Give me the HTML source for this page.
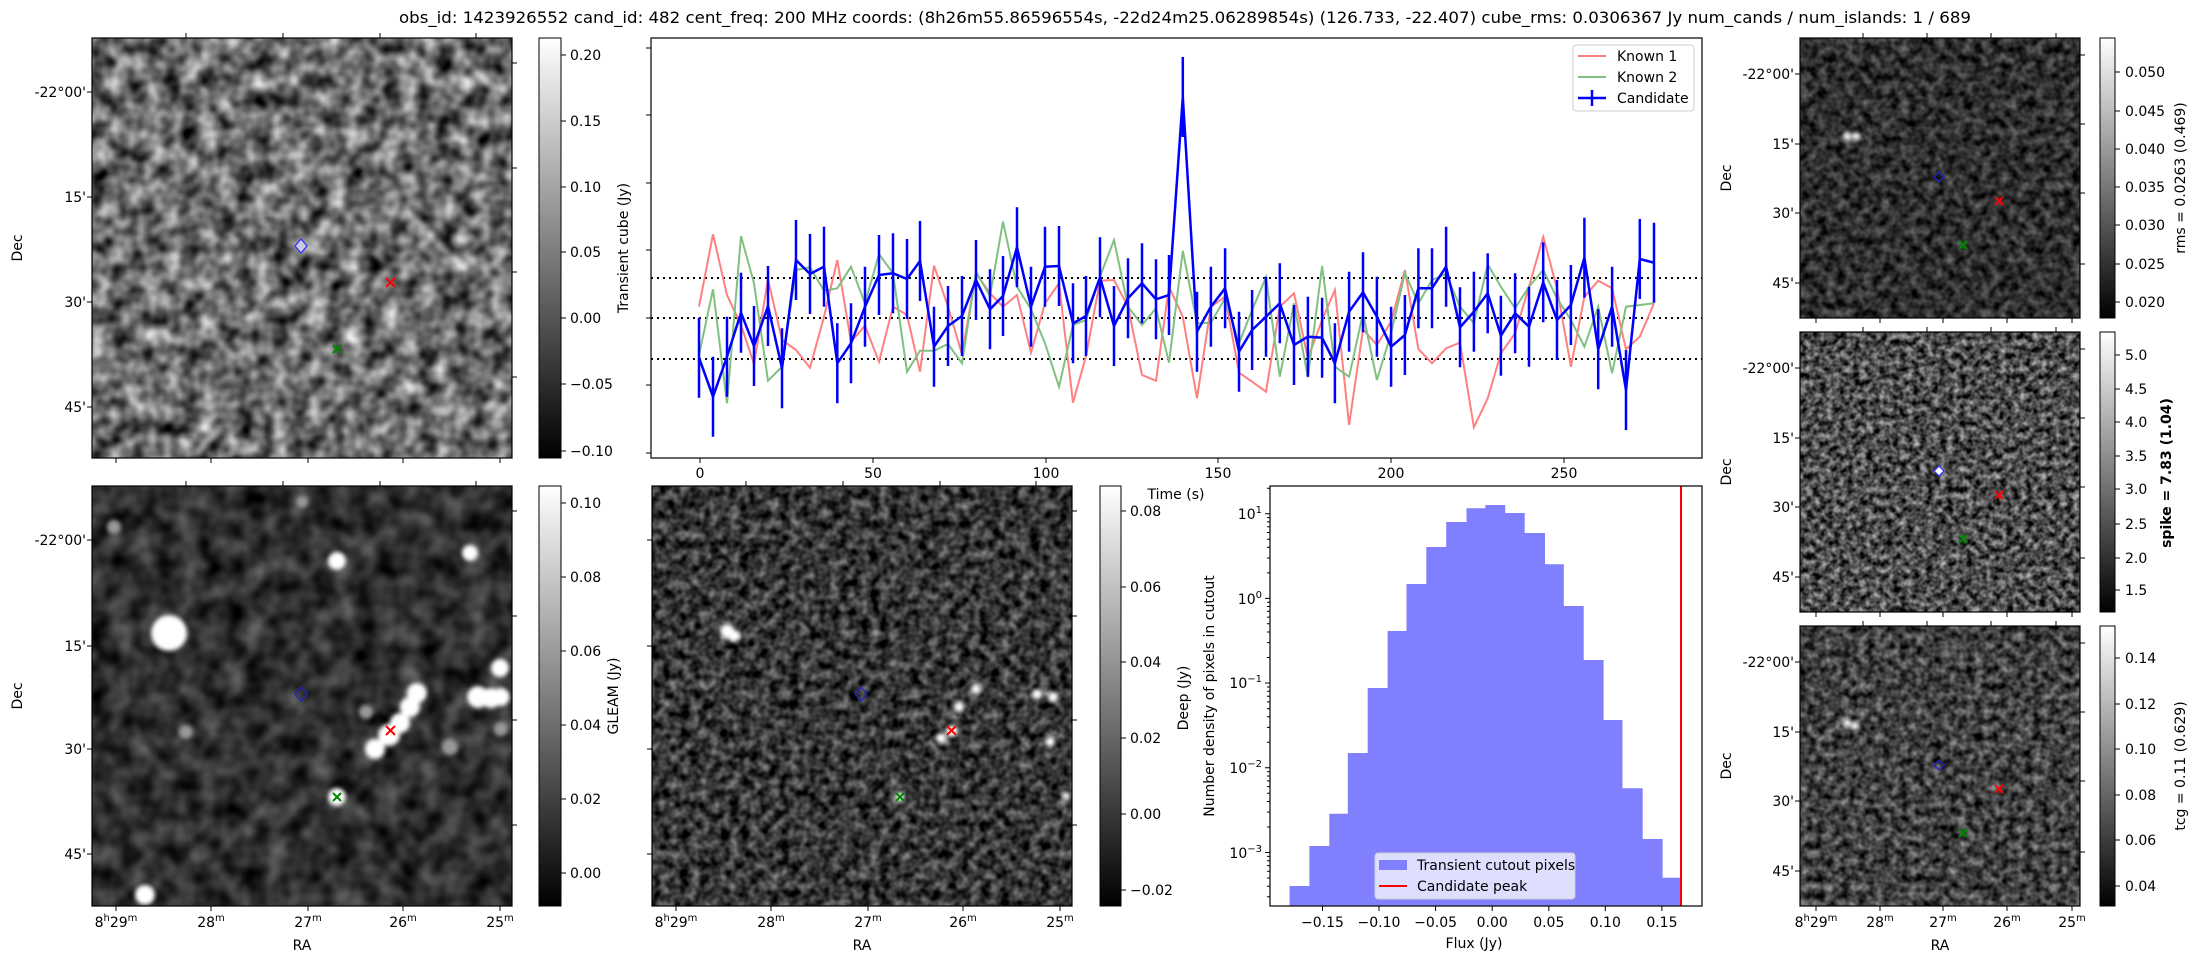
<!DOCTYPE html>
<html><head><meta charset="utf-8"><style>
html,body{margin:0;padding:0;background:#fff;width:2193px;height:960px;overflow:hidden}
svg text{font-family:"DejaVu Sans","Liberation Sans",sans-serif;fill:#000}
</style></head><body>
<svg id="s" xmlns="http://www.w3.org/2000/svg" width="2193" height="960" viewBox="0 0 2193 960">
<defs>
<linearGradient id="cb" x1="0" y1="0" x2="0" y2="1"><stop offset="0" stop-color="#fff"/><stop offset="1" stop-color="#000"/></linearGradient>
<filter id="fA" x="0" y="0" width="100%" height="100%" color-interpolation-filters="sRGB"><feTurbulence type="fractalNoise" baseFrequency="0.055" numOctaves="2" seed="4"/><feColorMatrix type="matrix" values="1.25 0 0 0 -0.2 1.25 0 0 0 -0.2 1.25 0 0 0 -0.2 0 0 0 0 1"/></filter>
<filter id="fB" x="0" y="0" width="100%" height="100%" color-interpolation-filters="sRGB"><feTurbulence type="fractalNoise" baseFrequency="0.045" numOctaves="2" seed="9"/><feColorMatrix type="matrix" values="0.55 0 0 0 -0.09 0.55 0 0 0 -0.09 0.55 0 0 0 -0.09 0 0 0 0 1"/></filter>
<filter id="fC" x="0" y="0" width="100%" height="100%" color-interpolation-filters="sRGB"><feTurbulence type="fractalNoise" baseFrequency="0.1" numOctaves="2" seed="2"/><feColorMatrix type="matrix" values="0.85 0 0 0 -0.21 0.85 0 0 0 -0.21 0.85 0 0 0 -0.21 0 0 0 0 1"/></filter>
<filter id="fD" x="0" y="0" width="100%" height="100%" color-interpolation-filters="sRGB"><feTurbulence type="fractalNoise" baseFrequency="0.11" numOctaves="2" seed="7"/><feColorMatrix type="matrix" values="0.65 0 0 0 -0.14 0.65 0 0 0 -0.14 0.65 0 0 0 -0.14 0 0 0 0 1"/></filter>
<filter id="fE" x="0" y="0" width="100%" height="100%" color-interpolation-filters="sRGB"><feTurbulence type="fractalNoise" baseFrequency="0.15" numOctaves="2" seed="11"/><feColorMatrix type="matrix" values="1.1 0 0 0 -0.25 1.1 0 0 0 -0.25 1.1 0 0 0 -0.25 0 0 0 0 1"/></filter>
<filter id="fF" x="0" y="0" width="100%" height="100%" color-interpolation-filters="sRGB"><feTurbulence type="fractalNoise" baseFrequency="0.12" numOctaves="2" seed="15"/><feColorMatrix type="matrix" values="0.85 0 0 0 -0.17 0.85 0 0 0 -0.17 0.85 0 0 0 -0.17 0 0 0 0 1"/></filter>
<filter id="bl" x="-50%" y="-50%" width="200%" height="200%"><feGaussianBlur stdDeviation="2"/></filter>
</defs>

<text x="399" y="23" font-size="16" textLength="1572" lengthAdjust="spacingAndGlyphs">obs_id: 1423926552 cand_id: 482 cent_freq: 200 MHz coords: (8h26m55.86596554s, -22d24m25.06289854s) (126.733, -22.407) cube_rms: 0.0306367 Jy num_cands / num_islands: 1 / 689</text>

<!-- Top-left image -->
<rect x="92" y="38" width="420" height="420" fill="#777" filter="url(#fA)"/>
<rect x="92" y="38" width="420" height="420" fill="none" stroke="#000" stroke-width="1.2"/>
<g stroke="#000" stroke-width="1">
<path d="M186 38v-5M283 38v-5M380 38v-5M476 38v-5M116 458v5M211 458v5M308 458v5M403 458v5M500 458v5M92 92h-5M92 197h-5M92 302h-5M92 407h-5M512 63h5M512 168h5M512 272h5M512 377h5"/>
</g>
<g font-size="14" text-anchor="end"><text x="86" y="97">-22°00'</text><text x="86" y="202">15'</text><text x="86" y="307">30'</text><text x="86" y="412">45'</text></g>
<text transform="translate(22,248) rotate(-90)" font-size="14" text-anchor="middle">Dec</text>
<path d="M295 246l6-7 6 7-6 7z" fill="#ccd" stroke="#33f" stroke-width="1.3"/>
<path d="M386 278l9 9M395 278l-9 9" stroke="#f00" stroke-width="2"/>
<path d="M333 345l8 8M341 345l-8 8" stroke="#080" stroke-width="2"/>

<!-- Colorbar 1 -->
<rect x="539" y="38" width="22" height="420" fill="url(#cb)" stroke="#000" stroke-width="1"/>
<g stroke="#000"><path d="M561 55h5M561 121h5M561 187h5M561 252h5M561 318h5M561 384h5M561 451h5"/></g>
<g font-size="14"><text x="570" y="60">0.20</text><text x="570" y="126">0.15</text><text x="570" y="192">0.10</text><text x="570" y="257">0.05</text><text x="570" y="323">0.00</text><text x="570" y="389">−0.05</text><text x="570" y="456">−0.10</text></g>
<text transform="translate(628,248) rotate(-90)" font-size="14" text-anchor="middle">Transient cube (Jy)</text>

<!-- Light curve -->
<rect x="651" y="38" width="1051" height="420" fill="#fff" stroke="#000" stroke-width="1.2"/>
<g stroke="#000"><path d="M651 48h-5M651 115h-5M651 183h-5M651 250h-5M651 318h-5M651 385h-5M651 453h-5"/>
<path d="M700 458v5M873 458v5M1046 458v5M1218 458v5M1391 458v5M1564 458v5"/></g>
<g font-size="14" text-anchor="middle"><text x="700" y="478">0</text><text x="873" y="478">50</text><text x="1046" y="478">100</text><text x="1218" y="478">150</text><text x="1391" y="478">200</text><text x="1564" y="478">250</text></g>
<text x="1176" y="499" font-size="14" text-anchor="middle">Time (s)</text>
<g stroke="#000" stroke-width="2" stroke-dasharray="2,4"><path d="M651 278H1702M651 318H1702M651 359H1702"/></g>
<g id="lc"></g>
<rect x="1573" y="45" width="121" height="66" rx="3" fill="#fff" fill-opacity="0.85" stroke="#ccc"/>
<path d="M1578 56h28" stroke="#ff8080" stroke-width="2"/>
<path d="M1578 77h28" stroke="#80c080" stroke-width="2"/>
<path d="M1578 98h28M1592 90v16" stroke="#00f" stroke-width="2.5"/>
<g font-size="14"><text x="1617" y="61">Known 1</text><text x="1617" y="82">Known 2</text><text x="1617" y="103">Candidate</text></g>

<!-- Bottom-left GLEAM -->
<rect x="92" y="486" width="420" height="420" fill="#333" filter="url(#fB)"/>
<g fill="#fff" filter="url(#bl)">
<circle cx="169" cy="633" r="18"/><circle cx="337" cy="561" r="9"/><circle cx="470" cy="553" r="8"/><circle cx="145" cy="895" r="10"/><circle cx="500" cy="668" r="9"/>
<circle cx="375" cy="749" r="10"/><circle cx="389" cy="735" r="11"/><circle cx="400" cy="723" r="10"/><circle cx="410" cy="707" r="10"/><circle cx="417" cy="693" r="10"/>
<circle cx="478" cy="697" r="11"/><circle cx="491" cy="698" r="10"/><circle cx="501" cy="697" r="9"/><circle cx="337" cy="797" r="9"/>
</g>
<g fill="#999" filter="url(#bl)"><circle cx="114" cy="527" r="7"/><circle cx="186" cy="732" r="7"/><circle cx="366" cy="712" r="7"/><circle cx="501" cy="729" r="7"/><circle cx="450" cy="747" r="8"/><circle cx="302" cy="502" r="6"/></g>
<rect x="92" y="486" width="420" height="420" fill="none" stroke="#000" stroke-width="1.2"/>
<g stroke="#000"><path d="M186 486v-5M283 486v-5M380 486v-5M476 486v-5M116 906v5M211 906v5M308 906v5M403 906v5M500 906v5M92 540h-5M92 646h-5M92 749h-5M92 854h-5M512 511h5M512 616h5M512 720h5M512 825h5"/></g>
<g font-size="14" text-anchor="end"><text x="86" y="545">-22°00'</text><text x="86" y="651">15'</text><text x="86" y="754">30'</text><text x="86" y="859">45'</text></g>
<text transform="translate(22,696) rotate(-90)" font-size="14" text-anchor="middle">Dec</text>
<g font-size="14" text-anchor="middle"><text x="116" y="927">8<tspan font-size="10" dy="-6">h</tspan><tspan dy="6">29</tspan><tspan font-size="10" dy="-6">m</tspan></text><text x="211" y="927">28<tspan font-size="10" dy="-6">m</tspan></text><text x="308" y="927">27<tspan font-size="10" dy="-6">m</tspan></text><text x="403" y="927">26<tspan font-size="10" dy="-6">m</tspan></text><text x="500" y="927">25<tspan font-size="10" dy="-6">m</tspan></text></g>
<text x="302" y="950" font-size="14" text-anchor="middle">RA</text>
<path d="M295 694l6-7 6 7-6 7z" fill="none" stroke="#22c" stroke-width="1.3"/>
<path d="M386 726l9 9M395 726l-9 9" stroke="#f00" stroke-width="2"/>
<path d="M333 793l8 8M341 793l-8 8" stroke="#080" stroke-width="2"/>
<rect x="539" y="486" width="22" height="420" fill="url(#cb)" stroke="#000"/>
<g stroke="#000"><path d="M561 503h5M561 577h5M561 651h5M561 725h5M561 799h5M561 873h5"/></g>
<g font-size="14"><text x="570" y="508">0.10</text><text x="570" y="582">0.08</text><text x="570" y="656">0.06</text><text x="570" y="730">0.04</text><text x="570" y="804">0.02</text><text x="570" y="878">0.00</text></g>
<text transform="translate(618,696) rotate(-90)" font-size="14" text-anchor="middle">GLEAM (Jy)</text>

<!-- Bottom-middle Deep -->
<rect x="652" y="486" width="420" height="420" fill="#333" filter="url(#fC)"/>
<g fill="#fff" filter="url(#bl)">
<circle cx="727" cy="631" r="7"/><circle cx="734" cy="636" r="6"/><circle cx="976" cy="689" r="5"/><circle cx="959" cy="707" r="5"/><circle cx="1037" cy="694" r="5"/><circle cx="1053" cy="697" r="5"/><circle cx="941" cy="738" r="5"/><circle cx="952" cy="731" r="6"/><circle cx="1050" cy="742" r="5"/><circle cx="900" cy="797" r="5"/><circle cx="1066" cy="796" r="4"/>
</g>
<rect x="652" y="486" width="420" height="420" fill="none" stroke="#000" stroke-width="1.2"/>
<g stroke="#000"><path d="M746 486v-5M843 486v-5M940 486v-5M1036 486v-5M676 906v5M771 906v5M868 906v5M963 906v5M1060 906v5M652 540h-5M652 646h-5M652 749h-5M652 854h-5M1072 511h5M1072 616h5M1072 720h5M1072 825h5"/></g>
<g font-size="14" text-anchor="middle"><text x="676" y="927">8<tspan font-size="10" dy="-6">h</tspan><tspan dy="6">29</tspan><tspan font-size="10" dy="-6">m</tspan></text><text x="771" y="927">28<tspan font-size="10" dy="-6">m</tspan></text><text x="868" y="927">27<tspan font-size="10" dy="-6">m</tspan></text><text x="963" y="927">26<tspan font-size="10" dy="-6">m</tspan></text><text x="1060" y="927">25<tspan font-size="10" dy="-6">m</tspan></text></g>
<text x="862" y="950" font-size="14" text-anchor="middle">RA</text>
<path d="M855 694l6-7 6 7-6 7z" fill="none" stroke="#22c" stroke-width="1.3"/>
<path d="M947 726l9 9M956 726l-9 9" stroke="#f00" stroke-width="2"/>
<path d="M896 793l8 8M904 793l-8 8" stroke="#080" stroke-width="2"/>
<rect x="1100" y="486" width="21" height="420" fill="url(#cb)" stroke="#000"/>
<g stroke="#000"><path d="M1121 511h5M1121 587h5M1121 662h5M1121 738h5M1121 814h5M1121 890h5"/></g>
<g font-size="14"><text x="1130" y="516">0.08</text><text x="1130" y="592">0.06</text><text x="1130" y="667">0.04</text><text x="1130" y="743">0.02</text><text x="1130" y="819">0.00</text><text x="1130" y="895">−0.02</text></g>
<text transform="translate(1188,698) rotate(-90)" font-size="14" text-anchor="middle">Deep (Jy)</text>

<!-- Histogram -->
<g id="hist"></g>
<path d="M1681 486V906" stroke="#f00" stroke-width="2"/>
<rect x="1270" y="486" width="432" height="420" fill="none" stroke="#000" stroke-width="1.2"/>
<g stroke="#000"><path d="M1322.5 906v5M1379 906v5M1435.6 906v5M1492.2 906v5M1548.8 906v5M1605.3 906v5M1661.9 906v5M1270 513.7h-5M1270 598.4h-5M1270 683h-5M1270 767.8h-5M1270 852.5h-5"/></g>
<g id="minor" stroke="#000"></g>
<g font-size="14" text-anchor="middle"><text x="1322.5" y="927">−0.15</text><text x="1379" y="927">−0.10</text><text x="1435.6" y="927">−0.05</text><text x="1492.2" y="927">0.00</text><text x="1548.8" y="927">0.05</text><text x="1605.3" y="927">0.10</text><text x="1661.9" y="927">0.15</text></g>
<text x="1474" y="948" font-size="14" text-anchor="middle">Flux (Jy)</text>
<g font-size="14" text-anchor="end"><text x="1262" y="519">10<tspan font-size="10" dy="-6">1</tspan></text><text x="1262" y="604">10<tspan font-size="10" dy="-6">0</tspan></text><text x="1262" y="688">10<tspan font-size="10" dy="-6">−1</tspan></text><text x="1262" y="773">10<tspan font-size="10" dy="-6">−2</tspan></text><text x="1262" y="858">10<tspan font-size="10" dy="-6">−3</tspan></text></g>
<text transform="translate(1214,696) rotate(-90)" font-size="14" text-anchor="middle">Number density of pixels in cutout</text>
<rect x="1375" y="853" width="200" height="46" rx="3" fill="#eef" fill-opacity="0.85" stroke="#ccc"/>
<rect x="1379" y="860" width="28" height="10" fill="#8080ff"/>
<path d="M1379 886h28" stroke="#f00" stroke-width="2"/>
<g font-size="14"><text x="1417" y="870">Transient cutout pixels</text><text x="1417" y="891">Candidate peak</text></g>

<!-- Right column -->
<rect x="1800" y="38" width="280" height="280" fill="#2a2a2a" filter="url(#fD)"/>
<g fill="#fff" filter="url(#bl)"><circle cx="1847" cy="136" r="4"/><circle cx="1856" cy="136" r="4"/></g>
<rect x="1800" y="332" width="280" height="280" fill="#555" filter="url(#fE)"/>
<rect x="1800" y="626" width="280" height="280" fill="#3a3a3a" filter="url(#fF)"/>
<g fill="#fff" filter="url(#bl)"><circle cx="1847" cy="723" r="4"/><circle cx="1855" cy="726" r="4"/></g>
<g fill="none" stroke="#000" stroke-width="1.2"><rect x="1800" y="38" width="280" height="280"/><rect x="1800" y="332" width="280" height="280"/><rect x="1800" y="626" width="280" height="280"/></g>
<g stroke="#000">
<path d="M1863 38v-5M1927 38v-5M1991 38v-5M2056 38v-5M1816 318v5M1880 318v5M1943 318v5M2007 318v5M2072 318v5M1800 74h-5M1800 144h-5M1800 213h-5M1800 283h-5M2080 55h5M2080 124h5M2080 193h5M2080 264h5"/>
<path d="M1863 332v-5M1927 332v-5M1991 332v-5M2056 332v-5M1816 612v5M1880 612v5M1943 612v5M2007 612v5M2072 612v5M1800 368h-5M1800 438h-5M1800 507h-5M1800 577h-5M2080 349h5M2080 418h5M2080 487h5M2080 558h5"/>
<path d="M1863 626v-5M1927 626v-5M1991 626v-5M2056 626v-5M1816 906v5M1880 906v5M1943 906v5M2007 906v5M2072 906v5M1800 662h-5M1800 732h-5M1800 801h-5M1800 871h-5M2080 643h5M2080 712h5M2080 781h5M2080 852h5"/>
</g>
<g font-size="14" text-anchor="end">
<text x="1794" y="79">-22°00'</text><text x="1794" y="149">15'</text><text x="1794" y="218">30'</text><text x="1794" y="288">45'</text>
<text x="1794" y="373">-22°00'</text><text x="1794" y="443">15'</text><text x="1794" y="512">30'</text><text x="1794" y="582">45'</text>
<text x="1794" y="667">-22°00'</text><text x="1794" y="737">15'</text><text x="1794" y="806">30'</text><text x="1794" y="876">45'</text>
</g>
<g font-size="14" text-anchor="middle">
<text transform="translate(1731,178) rotate(-90)">Dec</text><text transform="translate(1731,472) rotate(-90)">Dec</text><text transform="translate(1731,766) rotate(-90)">Dec</text>
<text x="1816" y="927">8<tspan font-size="10" dy="-6">h</tspan><tspan dy="6">29</tspan><tspan font-size="10" dy="-6">m</tspan></text><text x="1880" y="927">28<tspan font-size="10" dy="-6">m</tspan></text><text x="1943" y="927">27<tspan font-size="10" dy="-6">m</tspan></text><text x="2007" y="927">26<tspan font-size="10" dy="-6">m</tspan></text><text x="2072" y="927">25<tspan font-size="10" dy="-6">m</tspan></text>
<text x="1940" y="950">RA</text>
</g>
<g stroke-width="1.3">
<path d="M1934 177l5-5 5 5-5 5z" fill="none" stroke="#22c"/>
<path d="M1934 471l5-5 5 5-5 5z" fill="#fff" stroke="#33f"/>
<path d="M1934 765l5-5 5 5-5 5z" fill="none" stroke="#22c"/>
</g>
<g stroke="#f00" stroke-width="2"><path d="M1995 197l8 8M2003 197l-8 8M1995 491l8 8M2003 491l-8 8M1995 785l8 8M2003 785l-8 8"/></g>
<g stroke="#080" stroke-width="2"><path d="M1959 241l8 8M1967 241l-8 8M1959 535l8 8M1967 535l-8 8M1959 829l8 8M1967 829l-8 8"/></g>
<rect x="2100" y="38" width="15" height="280" fill="url(#cb)" stroke="#000"/>
<rect x="2100" y="332" width="15" height="280" fill="url(#cb)" stroke="#000"/>
<rect x="2100" y="626" width="15" height="280" fill="url(#cb)" stroke="#000"/>
<g stroke="#000"><path d="M2115 72h5M2115 111h5M2115 149h5M2115 187h5M2115 225h5M2115 264h5M2115 302h5M2115 355h5M2115 389h5M2115 422h5M2115 456h5M2115 489h5M2115 524h5M2115 558h5M2115 590h5M2115 658h5M2115 704h5M2115 749h5M2115 795h5M2115 840h5M2115 886h5"/></g>
<g font-size="14">
<text x="2125" y="77">0.050</text><text x="2125" y="116">0.045</text><text x="2125" y="154">0.040</text><text x="2125" y="192">0.035</text><text x="2125" y="230">0.030</text><text x="2125" y="269">0.025</text><text x="2125" y="307">0.020</text>
<text x="2125" y="360">5.0</text><text x="2125" y="394">4.5</text><text x="2125" y="427">4.0</text><text x="2125" y="461">3.5</text><text x="2125" y="494">3.0</text><text x="2125" y="529">2.5</text><text x="2125" y="563">2.0</text><text x="2125" y="595">1.5</text>
<text x="2125" y="663">0.14</text><text x="2125" y="709">0.12</text><text x="2125" y="754">0.10</text><text x="2125" y="800">0.08</text><text x="2125" y="845">0.06</text><text x="2125" y="891">0.04</text>
</g>
<g font-size="14" text-anchor="middle">
<text transform="translate(2185,178) rotate(-90)">rms = 0.0263 (0.469)</text>
<text transform="translate(2171,473) rotate(-90)" font-weight="bold">spike = 7.83 (1.04)</text>
<text transform="translate(2185,766) rotate(-90)">tcg = 0.11 (0.629)</text>
</g>
</svg>
<script>
(function(){
var NS="http://www.w3.org/2000/svg";
function el(p,t,a){var e=document.createElementNS(NS,t);for(var k in a)e.setAttribute(k,a[k]);p.appendChild(e);return e;}
var x7=[57,99,141,183,222,264,306,348,390,432,472,513,555,597,639,681,720,762,804,846,888,930,969,1011,1053,1095,1137,1179,1218,1260,1302,1344,1386,1428,1467];
var b7=[953,1070,950,818,918,798,985,660,702,680,970,910,800,705,700,717,663,920,858,828,720,808,768,622,800,680,678,850,828,712,858,775,730,778,765];
var r7=[800,583,765,855,972,718,900,930,983,830,660,905,857,965,800,825,995,677,800,943,700,760,800,765,938,790,730,1088,948,722,720,800,1005,1022,740];
var g7=[945,748,1090,588,730,1022,980,690,682,752,745,680,790,642,700,995,932,932,912,970,695,768,545,740,808,910,1040,855,840,710,600,800,855,805,968];
var x8=[80,121,163,204,243,284,325,367,408,450,488,530,571,612,654,695,735,775,817,858,899,940,979,1021,1062,1104,1145,1186,1226,1267,1308,1349,1390,1432];
var b8=[875,800,745,935,870,830,790,915,890,893,970,815,757,830,920,885,745,745,680,862,815,760,887,820,860,727,840,795,653,928,800,1050,657,668];
var r8=[1075,800,770,998,1025,1055,800,760,955,840,750,1155,868,915,845,690,927,970,925,908,1162,1075,940,880,740,590,745,980,770,722,745,928,890,790];
var g8=[850,848,775,910,810,712,1010,790,1012,678,980,1010,820,1020,880,700,790,720,702,800,850,673,740,805,740,690,775,840,920,800,1000,800,795,790];
var X=[],B=[],R=[],G=[],E=[];
for(var i=0;i<x7.length;i++){X.push(680+x7[i]/3);B.push(40+b7[i]/3);R.push(40+r7[i]/3);G.push(40+g7[i]/3);E.push(40);}
X.push(1170+38*0.338);B.push(97);R.push(40+830/3);G.push(40+632/3);E.push(40);
for(i=0;i<x8.length;i++){X.push(1170+x8[i]*0.338);B.push(40+b8[i]/3);R.push(40+r8[i]/3);G.push(40+g8[i]/3);E.push(40);}
function pts(Y){var s="";for(var j=0;j<X.length;j++)s+=(j?"L":"M")+X[j].toFixed(1)+" "+Y[j].toFixed(1);return s;}
var lc=document.getElementById("lc");
el(lc,"path",{d:pts(R),fill:"none",stroke:"#ff8080","stroke-width":2});
el(lc,"path",{d:pts(G),fill:"none",stroke:"#80c080","stroke-width":2});
el(lc,"path",{d:pts(B),fill:"none",stroke:"#00f","stroke-width":2.5});
var eb="";for(i=0;i<X.length;i++)eb+="M"+X[i].toFixed(1)+" "+(B[i]-E[i]).toFixed(1)+"V"+(B[i]+E[i]).toFixed(1);
el(lc,"path",{d:eb,stroke:"#00f","stroke-width":2.5});
var ed=[312,370,428,482,540,598,653,711,769,828,883,941,998,1057,1112,1170,1228,1283,1342,1400,1455];
var tp=[1248,1128,1031,849,654,483,342,231,156,115,105,129,189,283,408,570,750,955,1107,1223];
var h=document.getElementById("hist"),d="";
function hx(z){return 1270+(z-255)/1260*432;} function hy(z){return 486+(z-48)/1260*420;}
d="M"+hx(ed[0])+" 906";
for(i=0;i<tp.length;i++){d+="V"+hy(tp[i]).toFixed(1)+"H"+hx(ed[i+1]).toFixed(1);}
d+="V906Z";
el(h,"path",{d:d,fill:"#8080ff"});
var m=document.getElementById("minor"),md="",y;
var dec=[513.7,598.4,683,767.8,852.5,937.2];
for(var k=0;k<5;k++){for(var n=2;n<10;n++){y=dec[k+1]-84.7*Math.log10(n);if(y>486&&y<906)md+="M1270 "+y.toFixed(1)+"h-3";}}
for(n=2;n<10;n++){y=513.7-84.7*Math.log10(n);if(y>486)md+="M1270 "+y.toFixed(1)+"h-3";}
el(m,"path",{d:md});
})();
</script>
</body></html>
